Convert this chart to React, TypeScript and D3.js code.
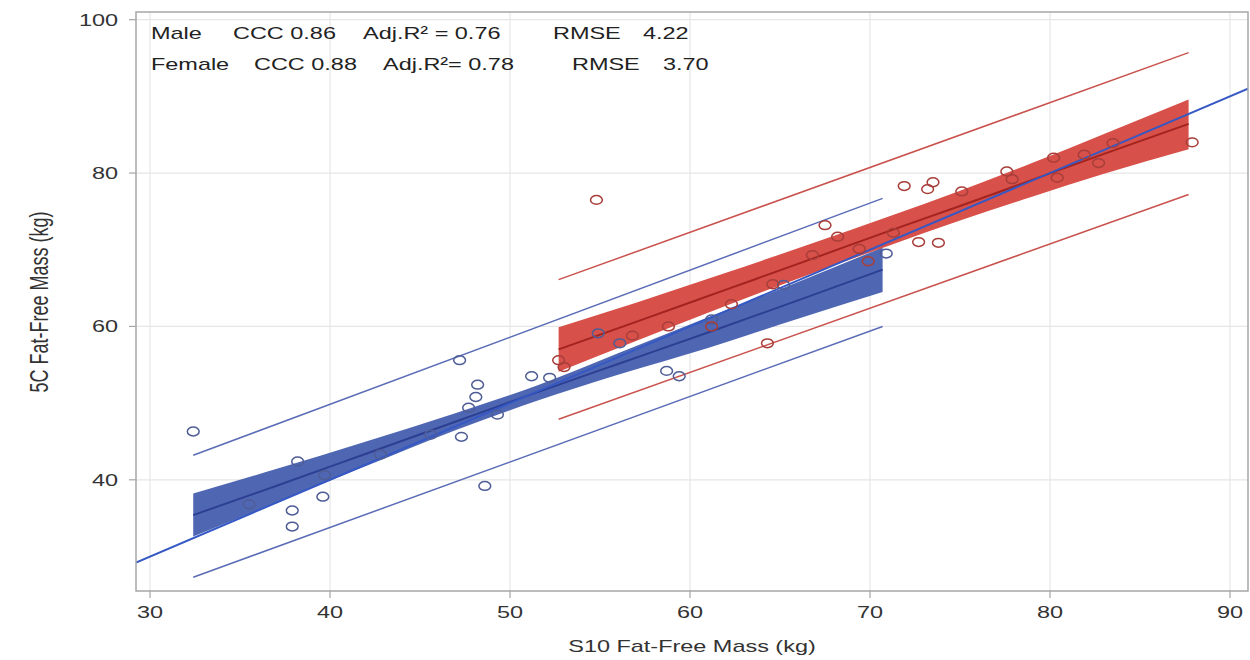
import React from "react";
import * as d3 from "d3";

// ---------- data ----------
const xTicks = [30, 40, 50, 60, 70, 80, 90];
const yTicks = [40, 60, 80, 100];

const maleX = [32.4, 35.5, 37.9, 37.9, 38.2, 39.6, 39.7, 42.8, 45.6, 47.2, 48.2, 48.1, 49.3, 47.3, 48.6, 47.7, 51.2, 52.2, 54.9, 56.1, 58.7, 59.4, 61.2, 65.2, 70.9];
const maleY = [46.3, 36.8, 36.0, 33.9, 42.4, 37.8, 40.6, 43.3, 45.9, 55.6, 52.4, 50.8, 48.5, 45.6, 39.2, 49.4, 53.5, 53.3, 59.1, 57.8, 54.2, 53.5, 60.9, 65.4, 69.5];

const femaleX = [52.7, 53.0, 54.8, 56.8, 58.8, 61.2, 62.3, 64.3, 64.6, 66.8, 67.5, 68.2, 69.4, 69.9, 71.3, 71.9, 72.7, 73.8, 73.2, 73.5, 75.1, 77.6, 77.9, 80.2, 80.4, 81.9, 82.7, 83.5, 87.9];
const femaleY = [55.6, 54.7, 76.5, 58.8, 60.0, 60.0, 62.9, 57.8, 65.5, 69.3, 73.2, 71.7, 70.1, 68.5, 72.2, 78.3, 71.0, 70.9, 77.9, 78.8, 77.6, 80.2, 79.2, 82.0, 79.4, 82.4, 81.3, 83.9, 84.0];

const maleBandX = [32.4, 37, 42, 47, 51.5, 56, 61, 66, 70.7];
const maleFit = [35.4, 39.2, 43.4, 47.6, 51.4, 55.1, 59.2, 63.4, 67.4];
const maleLo = [32.6, 37.0, 41.8, 46.5, 50.3, 53.7, 57.2, 61.0, 64.5];
const maleHi = [38.2, 41.4, 45.0, 48.7, 52.3, 56.5, 61.2, 65.8, 70.3];
const malePredX = [32.4, 70.7];
const malePredLo = [27.3, 60.0];
const malePredHi = [43.2, 76.7];

const femBandX = [52.7, 57, 62, 67, 71, 75, 79, 83, 87.7];
const femFit = [57.0, 60.6, 64.8, 69.0, 72.4, 75.7, 79.1, 82.5, 86.4];
const femLo = [54.1, 58.1, 62.7, 67.1, 70.5, 73.8, 76.9, 79.9, 83.1];
const femHi = [59.9, 63.1, 67.0, 71.0, 74.3, 77.7, 81.3, 85.1, 89.6];
const femPredX = [52.7, 87.7];
const femPredLo = [47.9, 77.2];
const femPredHi = [66.1, 95.7];

const identityX = [29.22, 91.0];

const statRows = [
  ["Male", "CCC 0.86", "Adj.R\u00B2 = 0.76", "RMSE", "4.22"],
  ["Female", "CCC 0.88", "Adj.R\u00B2= 0.78", "RMSE", "3.70"],
];

const xTitle = "S10 Fat-Free Mass (kg)";
const yTitle = "5C Fat-Free Mass (kg)";

// ---------- layout ----------
const W = 1250, H = 660;
const L = 136, R = 1248, T = 12, B = 591;
const SX = 1.38; // horizontal stretch of the original picture
const FONT = "'Liberation Sans', Arial, sans-serif";
const statCols = [[151, 233, 363, 553, 643], [151, 254, 383, 572, 663]];
const statBase = [39, 70];

const BLUE_BAND = "#4f67b3";
const RED_BAND = "#d64a43";

export default function App() {
  const x = d3.scaleLinear().domain([29.22, 91.0]).range([L, R]);
  const y = d3.scaleLinear().domain([25.5, 101.0]).range([B, T]);

  const band = (xs: number[], lo: number[], hi: number[]) =>
    d3.area<number>()
      .x((_, i) => x(xs[i]))
      .y0((_, i) => y(lo[i]))
      .y1((_, i) => y(hi[i]))
      .curve(d3.curveMonotoneX)(xs) as string;
  const line = (xs: number[], ys: number[]) =>
    d3.line<number>()
      .x((_, i) => x(xs[i]))
      .y((_, i) => y(ys[i]))
      .curve(d3.curveMonotoneX)(xs) as string;

  const txt = (
    key: string | number,
    tx: number,
    ty: number,
    s: string,
    size: number,
    anchor: "start" | "middle" | "end" = "start",
    fill = "#333"
  ) => (
    <text
      key={key}
      transform={`translate(${tx},${ty}) scale(${SX},1)`}
      textAnchor={anchor}
      fontFamily={FONT}
      fontSize={size}
      fill={fill}
    >
      {s}
    </text>
  );

  return (
    <svg width={W} height={H} style={{ position: "absolute", left: 0, top: 0, background: "#fff" }}>
      <defs>
        <clipPath id="plot">
          <rect x={L} y={T} width={R - L} height={B - T} />
        </clipPath>
      </defs>
      {/* grid */}
      {xTicks.map((t) => (
        <line key={"gx" + t} x1={x(t)} x2={x(t)} y1={T} y2={B} stroke="#e6e6e6" strokeWidth={1.2} />
      ))}
      {yTicks.map((t) => (
        <line key={"gy" + t} x1={L} x2={R} y1={y(t)} y2={y(t)} stroke="#e6e6e6" strokeWidth={1.2} />
      ))}

      <g clipPath="url(#plot)">
        {/* confidence bands */}
        <path d={band(maleBandX, maleLo, maleHi)} fill={BLUE_BAND} />
        <path d={band(femBandX, femLo, femHi)} fill={RED_BAND} fillOpacity={0.97} />
        {/* prediction limits */}
        <path d={line(malePredX, malePredLo)} fill="none" stroke="#5a6cb6" strokeWidth={1.5} />
        <path d={line(malePredX, malePredHi)} fill="none" stroke="#5a6cb6" strokeWidth={1.5} />
        <path d={line(femPredX, femPredLo)} fill="none" stroke="#c9524d" strokeWidth={1.5} />
        <path d={line(femPredX, femPredHi)} fill="none" stroke="#c9524d" strokeWidth={1.5} />
        {/* fit lines */}
        <path d={line(maleBandX, maleFit)} fill="none" stroke="#2c3f93" strokeWidth={2} />
        <path d={line(femBandX, femFit)} fill="none" stroke="#a3231f" strokeWidth={2} />
        {/* identity line */}
        <path d={line(identityX, identityX)} fill="none" stroke="#3558c4" strokeWidth={2} />
        {/* points */}
        {maleX.map((v, i) => (
          <ellipse key={"m" + i} cx={x(v)} cy={y(maleY[i])} rx={5.9} ry={4.4} fill="none" stroke="#4f5d96" strokeWidth={1.5} />
        ))}
        {femaleX.map((v, i) => (
          <ellipse key={"f" + i} cx={x(v)} cy={y(femaleY[i])} rx={5.9} ry={4.4} fill="none" stroke="#a83e3a" strokeWidth={1.5} />
        ))}
      </g>

      {/* frame */}
      <rect x={L} y={T} width={R - L} height={B - T} fill="none" stroke="#a6a6a6" strokeWidth={1.5} />

      {/* ticks */}
      {xTicks.map((t) => (
        <line key={"tx" + t} x1={x(t)} x2={x(t)} y1={B} y2={B + 7} stroke="#a6a6a6" strokeWidth={1.2} />
      ))}
      {yTicks.map((t) => (
        <line key={"ty" + t} x1={L - 7} x2={L} y1={y(t)} y2={y(t)} stroke="#a6a6a6" strokeWidth={1.2} />
      ))}
      {xTicks.map((t) => txt("lx" + t, x(t), B + 27, String(t), 17, "middle"))}
      {yTicks.map((t) => txt("ly" + t, L - 18, y(t) + 6, String(t), 17, "end"))}

      {/* axis titles */}
      {txt("xt", (L + R) / 2, 652, xTitle, 17, "middle")}
      <text
        transform={`translate(40,302) rotate(-90) scale(1,${SX})`}
        textAnchor="middle"
        fontFamily={FONT}
        fontSize={18}
        fill="#333"
        dy={6}
      >
        {yTitle}
      </text>

      {/* statistics */}
      {statRows.map((row, r) =>
        row.map((s, c) => txt(`s${r}-${c}`, statCols[r][c], statBase[r], s, 17, "start", "#222"))
      )}
    </svg>
  );
}
